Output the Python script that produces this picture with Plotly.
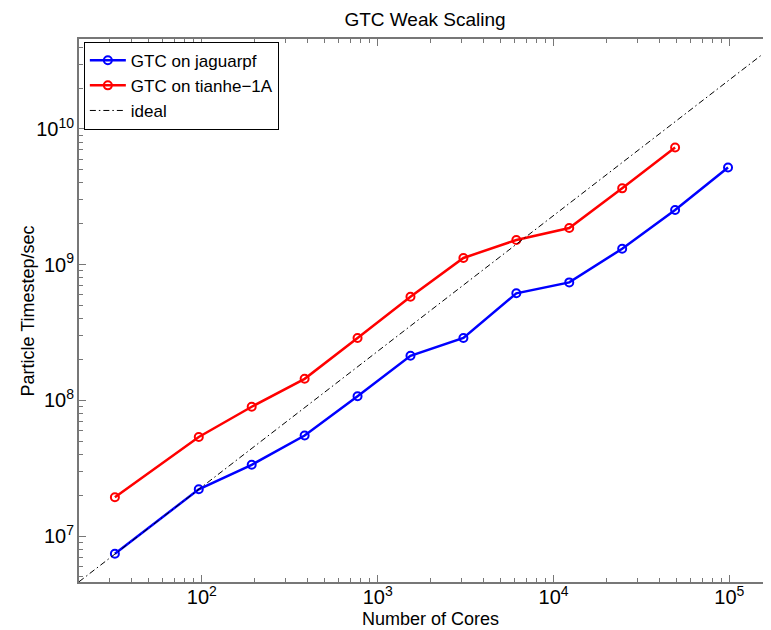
import plotly.graph_objects as go

# Data
cores_jaguar = [32, 96, 192, 384, 768, 1536, 3072, 6144, 12288, 24576, 49152, 98304]
rate_jaguar = [7.4e6, 2.21e7, 3.35e7, 5.5e7, 1.07e8, 2.13e8, 2.88e8, 6.15e8, 7.4e8, 1.31e9, 2.53e9, 5.2e9]

cores_tianhe = [32, 96, 192, 384, 768, 1536, 3072, 6144, 12288, 24576, 49152]
rate_tianhe = [1.93e7, 5.37e7, 8.97e7, 1.44e8, 2.88e8, 5.8e8, 1.12e9, 1.52e9, 1.86e9, 3.65e9, 7.3e9]

cores_ideal = [20, 200000]
rate_ideal = [4.6e6, 4.6e10]

names = ["GTC on jaguarpf", "GTC on tianhe\u22121A", "ideal"]
title_text = "GTC Weak Scaling"
x_title = "Number of Cores"
y_title = "Particle Timestep/sec"

FONT = "Liberation Sans, Arial, Helvetica, sans-serif"

fig = go.Figure()
fig.add_trace(go.Scatter(
    x=cores_jaguar, y=rate_jaguar, name=names[0], mode="lines+markers",
    line=dict(color="#0000ff", width=2.5),
    marker=dict(symbol="circle-open", size=8, color="#0000ff", line=dict(width=2, color="#0000ff")),
))
fig.add_trace(go.Scatter(
    x=cores_tianhe, y=rate_tianhe, name=names[1], mode="lines+markers",
    line=dict(color="#ff0000", width=2.5),
    marker=dict(symbol="circle-open", size=8, color="#ff0000", line=dict(width=2, color="#ff0000")),
))
fig.add_trace(go.Scatter(
    x=cores_ideal, y=rate_ideal, name=names[2], mode="lines",
    line=dict(color="#000000", width=1, dash="6px,3px,1.5px,3px"),
))

axis_common = dict(
    type="log", showgrid=False, zeroline=False, automargin=False,
    showline=True, linecolor="#777777", linewidth=1.5,
    ticks="inside", ticklen=7, tickcolor="#777777", tickwidth=1,
    dtick=1, exponentformat="power", showexponent="all",
    tickfont=dict(family=FONT, size=16, color="#000000"),
    minor=dict(ticks="inside", ticklen=4, tickcolor="#777777", dtick="D1", showgrid=False),
)

# The page body adds an 8px offset, so the figure is 8px smaller on each side
fig.update_layout(
    width=763, height=622,
    margin=dict(l=71, r=0, t=31, b=48),
    paper_bgcolor="white", plot_bgcolor="white",
    font=dict(family=FONT, size=16, color="#000000"),
    title=dict(text=title_text, x=0.5, xref="paper", xanchor="center",
               y=1 - 11 / 622, yref="container", yanchor="middle",
               font=dict(family=FONT, size=19, color="#000000")),
    xaxis=dict(axis_common, range=[1.301, 5.237], mirror="allticks", ticklabelstandoff=-3),
    yaxis=dict(axis_common, range=[6.661, 10.663], mirror=False),
    legend=dict(x=0.007, y=0.995, xanchor="left", yanchor="top",
                bordercolor="#000000", borderwidth=1, bgcolor="white",
                font=dict(family=FONT, size=17), itemwidth=36, tracegroupgap=0),
    showlegend=True,
    annotations=[
        dict(text=x_title, xref="paper", yref="paper", x=0.508, y=-0.069,
             xanchor="center", yanchor="middle", showarrow=False,
             font=dict(family=FONT, size=18, color="#000000")),
        dict(text=y_title, xref="paper", yref="paper", x=-0.0737, y=0.5,
             xanchor="center", yanchor="middle", textangle=-90, showarrow=False,
             font=dict(family=FONT, size=18, color="#000000")),
    ],
)

fig.write_html("out.html")
